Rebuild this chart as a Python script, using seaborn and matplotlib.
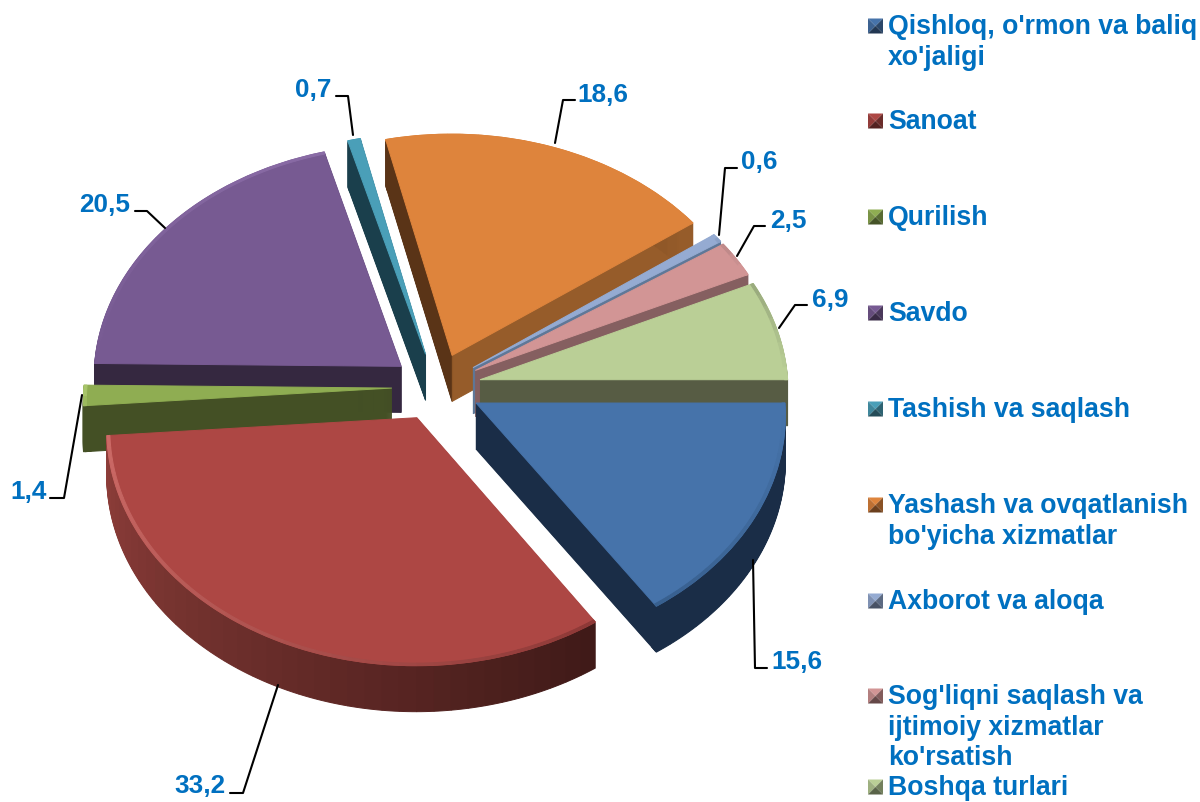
import numpy as np
import matplotlib
matplotlib.use("Agg")
import matplotlib.pyplot as plt
import matplotlib.colors as mcolors
from matplotlib.lines import Line2D
from matplotlib.patches import Polygon
from matplotlib.transforms import Transform, Affine2D
import seaborn as sns

# ---------- data ----------
categories = ["Qishloq, o'rmon va baliq\nxo'jaligi", "Sanoat", "Qurilish", "Savdo",
              "Tashish va saqlash", "Yashash va ovqatlanish\nbo'yicha xizmatlar",
              "Axborot va aloqa", "Sog'liqni saqlash va\nijtimoiy xizmatlar\nko'rsatish",
              "Boshqa turlari"]
values = [15.6, 33.2, 1.4, 20.5, 0.7, 18.6, 0.6, 2.5, 6.9]
value_labels = ["15,6", "33,2", "1,4", "20,5", "0,7", "18,6", "0,6", "2,5", "6,9"]

# ---------- styles ----------
top_colors = ["#4673AA", "#AD4744", "#8FAD52", "#775A92", "#4A9FB8",
              "#DE843C", "#95ABD2", "#D29595", "#BACF96"]
cut_first = ["#1A2D47", "#421A18", "#445025", "#352840", "#1A3F4C",
             "#5A3417", "#5F7898", "#855F60", "#575C44"]
cut_last = ["#1A2D47", "#421A18", "#445025", "#352840", "#1A3F4C",
            "#965C2A", "#5F7898", "#855F60", "#575C44"]
rim_first = ["#1A2D47", "#401A18", "#445025", "#352840", "#1A3F4C",
             "#5A3417", "#5F7898", "#855F60", "#575C44"]
rim_last = ["#1A2D47", "#8E3E3A", "#445025", "#352840", "#1A3F4C",
            "#965C2A", "#5F7898", "#855F60", "#575C44"]
bevel_first = ["#4673AA", "#8E3937", "#9DBB5E", "#775A92", "#4A9FB8",
               "#DE843C", "#95ABD2", "#C08A8A", "#9AAB7E"]
bevel_last = ["#38608F", "#CC6A66", "#A8C56A", "#8A6CA6", "#4A9FB8",
              "#DE843C", "#8AA0C6", "#D29595", "#BACF96"]
draw_order = [4, 5, 3, 6, 7, 8, 2, 1, 0]

TEXT_BLUE = "#0070C0"
W, H = 1200, 802
CX, CY, AX, BY = 436.5, 387, 308, 234   # pie centre and pixels per unit
EXPLODE = 0.145
DEPTH_PX = 46
PERSPECTIVE = 0.045

sns.set_theme(style="white")
plt.rcParams["font.family"] = ["Liberation Sans", "DejaVu Sans"]
fig = plt.figure(figsize=(W / 100, H / 100), dpi=100, facecolor="white")
ax = fig.add_axes([0, 0, 1, 1])


class Perspective(Transform):
    input_dims = output_dims = 2
    is_separable = False
    has_inverse = False

    def transform_non_affine(self, values):
        v = np.asarray(values, dtype=float)
        s = 1.0 / (1.0 + PERSPECTIVE * v[:, 1])
        return np.column_stack([v[:, 0] * s, v[:, 1] * s])


def mix(c0, c1, n):
    a, b = np.array(mcolors.to_rgb(c0)), np.array(mcolors.to_rgb(c1))
    return [tuple(a + (b - a) * t) for t in np.linspace(0, 1, n)]


starts = 360 - np.concatenate([[0], np.cumsum(values)[:-1]]) * 3.6
mids = starts - np.array(values) * 1.8


def draw_slice(i, pieces, colors, d, z, width=None, radius=1.0):
    m = np.deg2rad(mids[i])
    props = {"linewidth": 0.7}
    if width is not None:
        props["width"] = width
    wedges, _ = ax.pie(list(pieces) + [100 - sum(pieces)],
                       colors=list(colors) + ["white"],
                       startangle=starts[i], counterclock=False, radius=radius,
                       center=(EXPLODE * np.cos(m), EXPLODE * np.sin(m)),
                       labeldistance=None, wedgeprops=props)
    wedges[-1].remove()
    tr = Perspective() + Affine2D().translate(0, -d) + ax.transData
    for w in wedges[:-1]:
        w.set_edgecolor(w.get_facecolor())
        w.set_transform(tr)
        w.set_zorder(z)
        w.set_clip_on(False)


for rank, i in enumerate(draw_order):
    base = (rank + 1) * 1000
    v = values[i]
    n = max(2, int(v * 1.2))
    piece = [v / n] * n
    rim_cols = mix(rim_first[i], rim_last[i], n)
    bevel_cols = mix(bevel_first[i], bevel_last[i], n)
    for k in range(DEPTH_PX, 0, -1):
        d = k / BY
        draw_slice(i, [v / 2, v / 2], [cut_first[i], cut_last[i]], d,
                   base + (DEPTH_PX - k), radius=0.995)
    for k in range(DEPTH_PX, 0, -1):
        d = k / BY
        draw_slice(i, piece, rim_cols, d, base + 100 + (DEPTH_PX - k), width=0.025)
    draw_slice(i, [v], [top_colors[i]], 0, base + 500)
    draw_slice(i, piece, bevel_cols, 0, base + 501, width=0.01)

ax.set_aspect("auto")
ax.set_xlim((0 - CX) / AX, (W - CX) / AX)
ax.set_ylim((CY - H) / BY, CY / BY)
ax.set_axis_off()


def fx(x):
    return x / W


def fy(y):
    return 1 - y / H


# ---------- value labels with leader lines (pixel layout) ----------
label_pos = [(797, 662), (200, 786), (29, 492), (105, 205), (313, 90),
             (603, 95), (759, 162), (788, 221), (830, 300)]
leaders = [[(753, 560), (755, 668), (767, 668)],
           [(278, 685), (243, 793), (230, 793)],
           [(82, 395), (64, 498), (50, 498)],
           [(135, 211), (147, 211), (165, 228)],
           [(336, 96), (348, 96), (353, 135)],
           [(575, 100), (563, 100), (555, 143)],
           [(737, 168), (725, 168), (719, 235)],
           [(765, 226), (754, 226), (737, 256)],
           [(807, 305), (795, 305), (779, 328)]]
for txt, (x, y), pts in zip(value_labels, label_pos, leaders):
    fig.text(fx(x), fy(y), txt, color=TEXT_BLUE, fontsize=18.8, fontweight="bold",
             ha="center", va="center", zorder=20000)
    fig.add_artist(Line2D([fx(p[0]) for p in pts], [fy(p[1]) for p in pts],
                          color="black", linewidth=1.5, zorder=19000))

# ---------- legend (pixel layout) ----------
legend_y = [27, 122, 218, 314, 410, 506, 602, 697, 788]
LINE_STEP = 30.7
for name, y, col in zip(categories, legend_y, top_colors):
    for j, line in enumerate(name.split("\n")):
        fig.text(fx(888), fy(y + j * LINE_STEP), line, color=TEXT_BLUE, fontsize=19.2,
                 fontweight="bold", ha="left", va="center", zorder=20000)
    x0, x1, y0, y1 = 868, 883, y - 8.5, y + 6.5
    xc, yc = (x0 + x1) / 2, (y0 + y1) / 2
    rgb = np.array(mcolors.to_rgb(col))
    facets = [([(x0, y0), (x1, y0), (xc, yc)], 1.0),
              ([(x0, y0), (x0, y1), (xc, yc)], 0.85),
              ([(x1, y0), (x1, y1), (xc, yc)], 0.62),
              ([(x0, y1), (x1, y1), (xc, yc)], 0.48)]
    for pts, f in facets:
        fig.add_artist(Polygon([(fx(a), fy(b)) for a, b in pts], closed=True,
                               transform=fig.transFigure, facecolor=tuple(rgb * f),
                               edgecolor="none", zorder=19000))

fig.savefig("out.png", dpi=100, facecolor="white")
